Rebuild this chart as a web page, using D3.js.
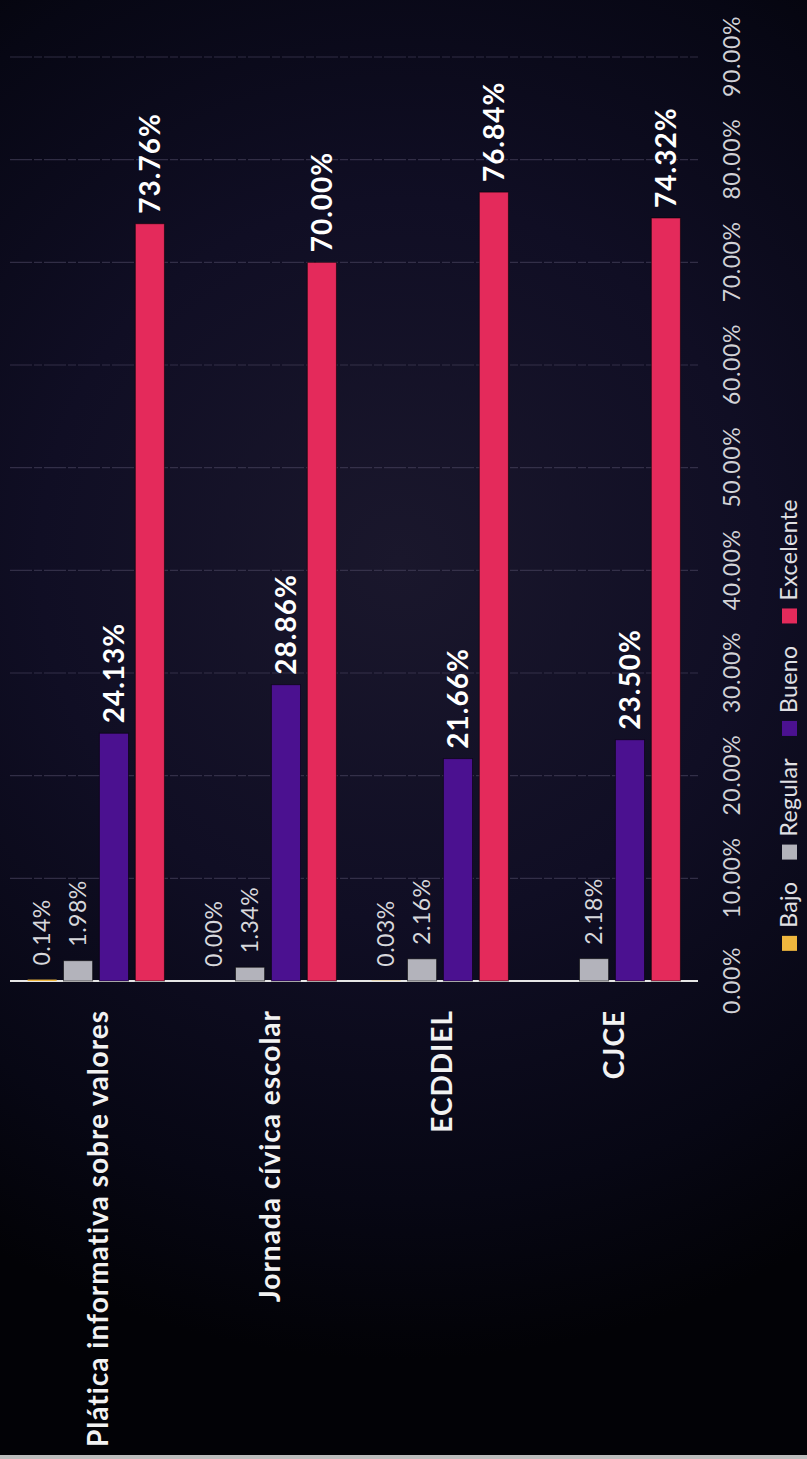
<!DOCTYPE html>
<html>
<head>
<meta charset="utf-8">
<script src="https://cdn.jsdelivr.net/npm/d3@7"></script>
<style>
  html, body { margin: 0; padding: 0; background: #05050d; }
  svg { display: block; }
</style>
</head>
<body>
<svg id="chart" width="807" height="1459"></svg>
<script>
// ---- data ----
const categories = ["Plática informativa sobre valores", "Jornada cívica escolar", "ECDDIEL", "CJCE"];
const seriesNames = ["Bajo", "Regular", "Bueno", "Excelente"];
const bajo = [0.0014, 0.0000, 0.0003, null];
const regular = [0.0198, 0.0134, 0.0216, 0.0218];
const bueno = [0.2413, 0.2886, 0.2166, 0.2350];
const excelente = [0.7376, 0.7000, 0.7684, 0.7432];
const tickValues = [0, 0.1, 0.2, 0.3, 0.4, 0.5, 0.6, 0.7, 0.8, 0.9];
const seriesColors = ["#efb73e", "#b3b3bb", "#4b1190", "#e42a5b"];

const seriesValues = [bajo, regular, bueno, excelente];
const fmt = d3.format(".2%");

const W = 807, H = 1459;
const svg = d3.select("#chart");

// background
const defs = svg.append("defs");
const rg = defs.append("radialGradient").attr("id", "bg")
  .attr("gradientUnits", "userSpaceOnUse")
  .attr("cx", 400).attr("cy", 560).attr("r", 800);
rg.append("stop").attr("offset", 0).attr("stop-color", "#1a172c");
rg.append("stop").attr("offset", 0.45).attr("stop-color", "#100e24");
rg.append("stop").attr("offset", 0.8).attr("stop-color", "#070714");
rg.append("stop").attr("offset", 1).attr("stop-color", "#020206");
svg.append("rect").attr("width", W).attr("height", H).attr("fill", "url(#bg)");
svg.append("rect").attr("x", 0).attr("y", H - 4).attr("width", W).attr("height", 4).attr("fill", "#bdbdbd");

// Rotated frame: original chart is 1459 wide, 807 tall
const g = svg.append("g").attr("transform", `translate(0,${H}) rotate(-90)`);
const fontFam = "Lato, 'Open Sans', sans-serif";

const x = d3.scaleLinear().domain([0, 0.9]).range([478, 1402]);
const y0 = d3.scaleBand().domain(categories).range([10, 698]).padding(0);
const y1 = d3.scaleBand().domain(seriesNames).range([0, y0.bandwidth()])
  .paddingInner(0.19).paddingOuter(0.49);

// gridlines
g.append("g").selectAll("line").data(tickValues.filter(d => d > 0)).join("line")
  .attr("x1", d => x(d)).attr("x2", d => x(d))
  .attr("y1", 10).attr("y2", 698)
  .attr("stroke", "#4a4560").attr("stroke-width", 1.2)
  .attr("stroke-dasharray", "22,2,8,2").attr("opacity", 0.6);

// tick labels via axis
const axis = d3.axisBottom(x).tickValues(tickValues).tickFormat(fmt).tickSize(0).tickPadding(0);
const ax = g.append("g").attr("transform", "translate(0,724)").call(axis);
ax.select(".domain").remove();
ax.selectAll("text")
  .attr("fill", "#d2d2d6")
  .attr("font-family", fontFam)
  .attr("font-size", 23)
  .attr("letter-spacing", 0.6)
  .attr("dy", "0.71em");

// baseline (category axis)
g.append("line").attr("x1", 478).attr("x2", 478).attr("y1", 10).attr("y2", 698)
  .attr("stroke", "#e6e6e6").attr("stroke-width", 2);

// category labels
g.append("g").selectAll("text").data(categories).join("text")
  .attr("x", 449)
  .attr("y", d => y0(d) + y0.bandwidth() / 2 + 2)
  .attr("dy", "0.35em")
  .attr("text-anchor", "end")
  .attr("fill", "#f2f2f2")
  .attr("font-family", fontFam)
  .attr("font-weight", 700)
  .attr("font-size", 28)
  .attr("letter-spacing", 1)
  .text(d => d);

// bars
const rows = [];
categories.forEach((c, i) => {
  seriesNames.forEach((s, j) => {
    const v = seriesValues[j][i];
    if (v !== null && v !== undefined) rows.push({ c, s, j, v });
  });
});

g.append("g").selectAll("rect").data(rows).join("rect")
  .attr("x", x(0))
  .attr("y", d => y0(d.c) + y1(d.s))
  .attr("width", d => x(d.v) - x(0))
  .attr("height", y1.bandwidth())
  .attr("fill", d => seriesColors[d.j])
  .attr("stroke", "rgba(0,0,0,0.55)")
  .attr("stroke-width", d => d.v > 0.01 ? 1 : 0);

// data labels
g.append("g").selectAll("text").data(rows).join("text")
  .attr("x", d => x(d.v) + (d.j >= 2 ? 10 : 14))
  .attr("y", d => y0(d.c) + y1(d.s) + y1.bandwidth() / 2)
  .attr("dy", "0.35em")
  .attr("fill", d => d.j >= 2 ? "#ffffff" : "#d8d8dc")
  .attr("font-family", fontFam)
  .attr("font-weight", d => d.j >= 2 ? 700 : 400)
  .attr("font-size", d => d.j >= 2 ? 28 : 23)
  .attr("letter-spacing", d => d.j >= 2 ? 1 : 0.5)
  .text(d => fmt(d.v));

// legend
const leg = g.append("g");
const items = leg.selectAll("g").data(seriesNames).join("g");
items.append("rect").attr("width", 15).attr("height", 15).attr("y", 782)
  .attr("fill", (d, i) => seriesColors[i]);
items.append("text").attr("x", 23).attr("y", 797)
  .attr("fill", "#e0e0e4")
  .attr("font-family", fontFam)
  .attr("font-size", 23)
  .attr("letter-spacing", 0.4)
  .text(d => d);
let cursor = 0;
items.each(function () {
  const t = d3.select(this).select("text").node();
  const w = 23 + t.getComputedTextLength();
  this.__off = cursor;
  cursor += w + 22;
});
const total = cursor - 22;
const startX = 734 - total / 2;
items.attr("transform", function () { return `translate(${startX + this.__off},0)`; });
</script>
</body>
</html>
